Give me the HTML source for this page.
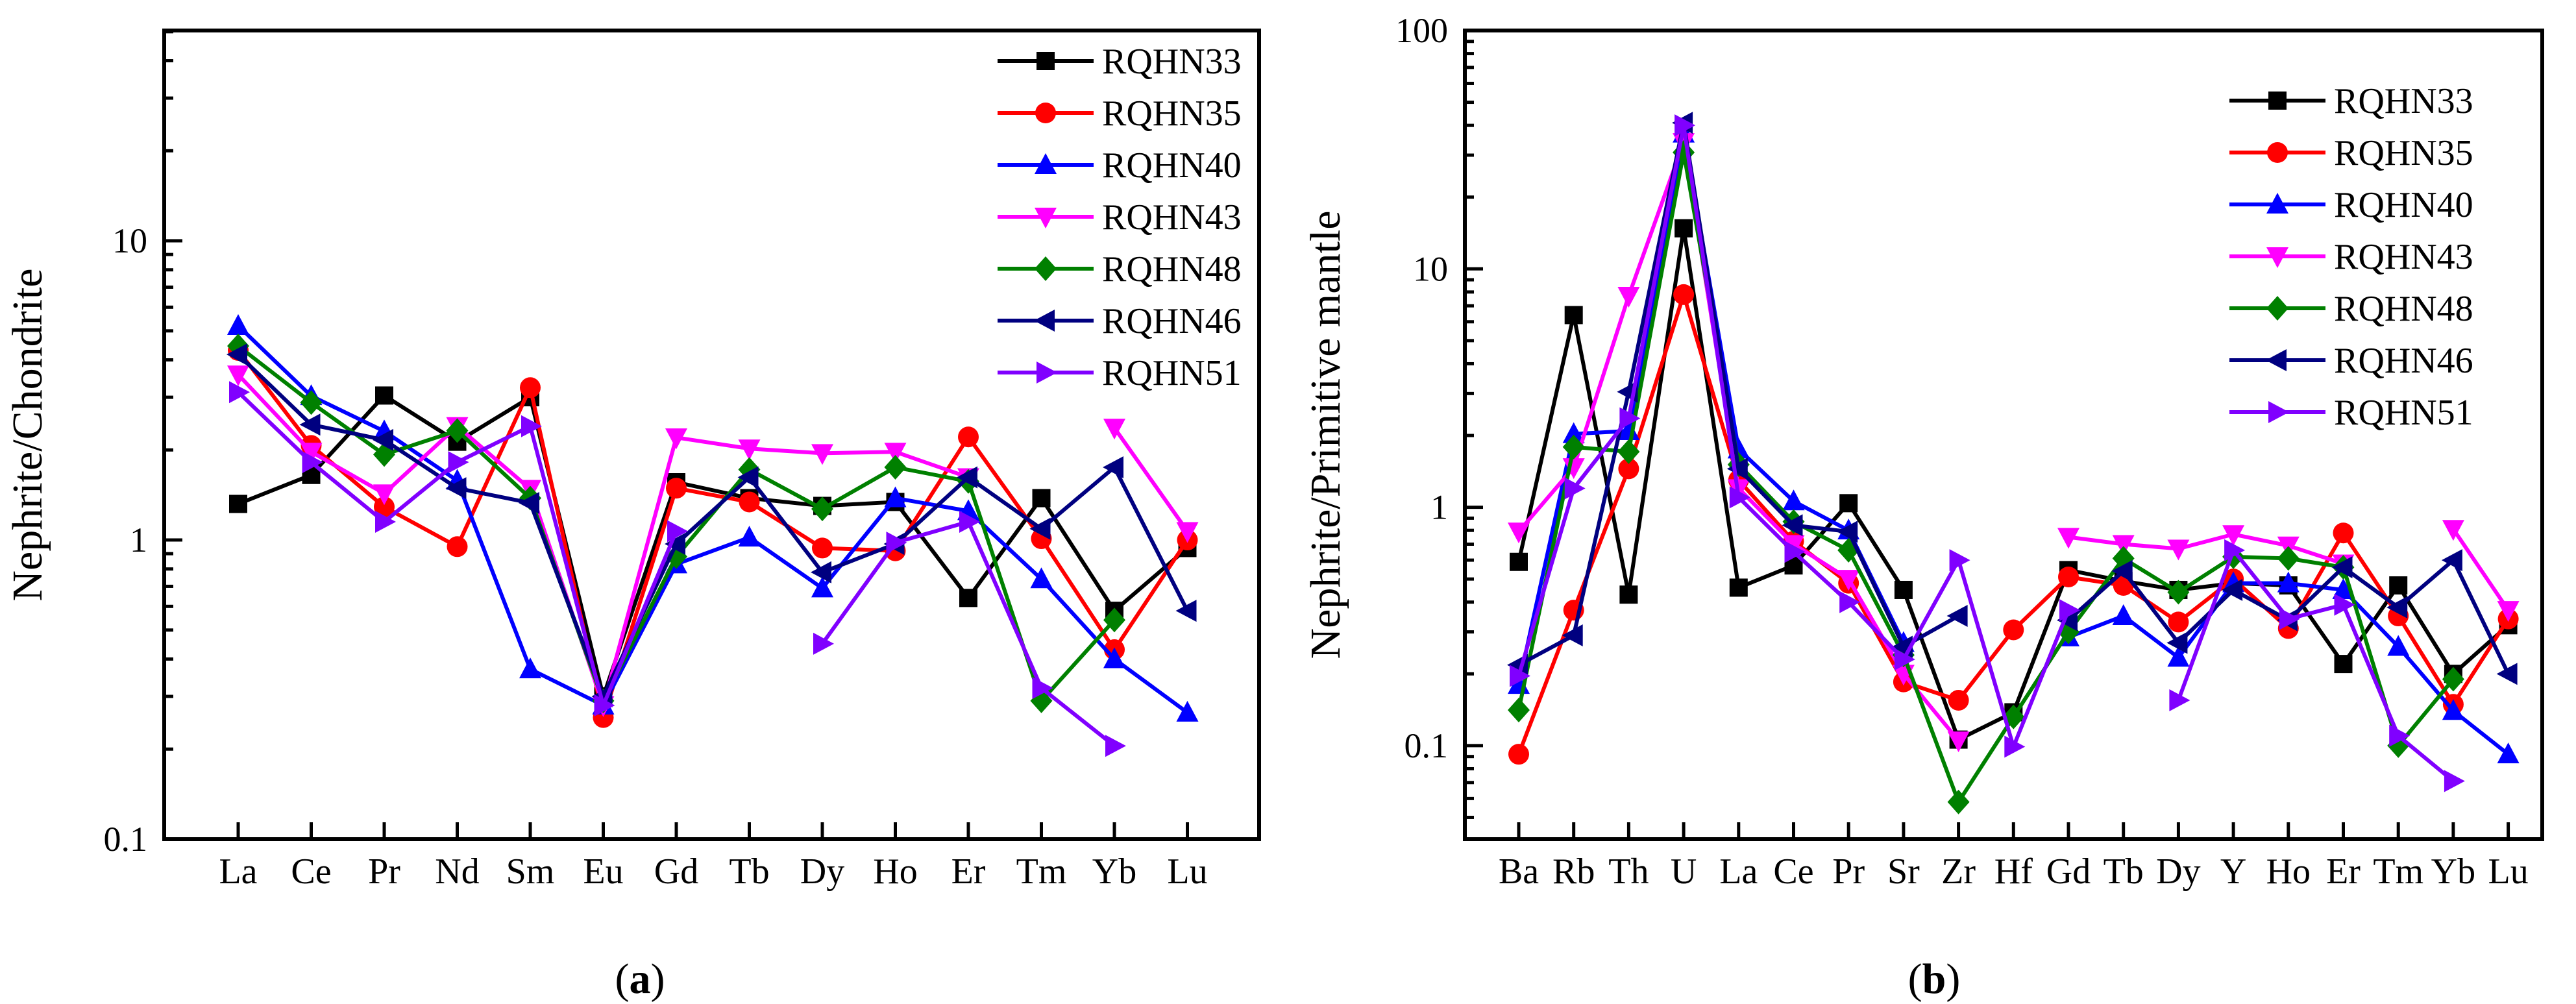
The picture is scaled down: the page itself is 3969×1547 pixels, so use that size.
<!DOCTYPE html>
<html><head><meta charset="utf-8"><style>
html,body{margin:0;padding:0;background:#fff;}
svg{display:block;}
svg text{font-family:"Liberation Serif","DejaVu Serif",serif;}
</style></head><body>
<svg id="chart" width="3969" height="1547" viewBox="0 0 3969 1547" font-family="'Liberation Serif', serif" xmlns="http://www.w3.org/2000/svg"></svg>
<script>
const seriesNames = ["RQHN33","RQHN35","RQHN40","RQHN43","RQHN48","RQHN46","RQHN51"];
const seriesColors = ["#000000","#ff0000","#0000ff","#ff00ff","#008000","#000080","#8000ff"];
const seriesMarkers = ["square","circle","up","down","diamond","left","right"];

const catsA = ["La","Ce","Pr","Nd","Sm","Eu","Gd","Tb","Dy","Ho","Er","Tm","Yb","Lu"];
const a33 = [1.32,1.65,3.04,2.13,3.0,0.30,1.56,1.38,1.30,1.34,0.64,1.38,0.58,0.94];
const a35 = [4.3,2.07,1.29,0.95,3.23,0.255,1.49,1.34,0.94,0.92,2.21,1.01,0.43,1.0];
const a40 = [5.2,3.03,2.31,1.58,0.37,0.28,0.83,1.02,0.69,1.38,1.25,0.74,0.40,0.265];
const a43 = [3.57,1.97,1.43,2.4,1.48,0.28,2.2,2.02,1.95,1.97,1.62,null,2.37,1.07];
const a48 = [4.45,2.88,1.93,2.32,1.38,0.29,0.88,1.72,1.27,1.75,1.57,0.29,0.54,null];
const a46 = [4.17,2.43,2.16,1.49,1.33,0.30,0.97,1.62,0.78,0.97,1.62,1.09,1.75,0.58];
const a51 = [3.12,1.82,1.15,1.82,2.4,0.28,1.07,null,0.45,0.98,1.15,0.32,0.205,null];
const ticksA = [0.1,1,10];
const ticksALabels = ["0.1","1","10"];

const catsB = ["Ba","Rb","Th","U","La","Ce","Pr","Sr","Zr","Hf","Gd","Tb","Dy","Y","Ho","Er","Tm","Yb","Lu"];
const b33 = [0.59,6.4,0.43,14.8,0.46,0.57,1.04,0.45,0.106,0.138,0.545,0.49,0.45,0.48,0.47,0.22,0.47,0.20,0.32];
const b35 = [0.092,0.37,1.45,7.8,1.3,0.72,0.48,0.185,0.155,0.306,0.51,0.47,0.33,0.5,0.31,0.78,0.35,0.149,0.34];
const b40 = [0.18,2.03,2.09,37,1.75,1.06,0.8,0.27,null,null,0.285,0.35,0.234,0.48,0.48,0.45,0.26,0.14,0.092];
const b43 = [0.79,1.47,7.7,34,1.2,0.7,0.5,0.2,0.105,null,0.75,0.70,0.67,0.77,0.69,0.58,null,0.81,0.37];
const b48 = [0.141,1.79,1.71,30.8,1.51,0.87,0.66,0.24,0.058,0.132,0.30,0.61,0.44,0.62,0.61,0.56,0.10,0.19,null];
const b46 = [0.218,0.29,3.05,41,1.45,0.84,0.79,0.26,0.35,null,0.336,0.54,0.27,0.45,0.336,0.56,0.38,0.60,0.20];
const b51 = [0.196,1.2,2.36,40,1.1,0.65,0.4,0.23,0.6,0.099,0.37,null,0.155,0.66,0.34,0.39,0.11,0.071,null];
const ticksB = [0.1,1,10,100];
const ticksBLabels = ["0.1","1","10","100"];

const NS="http://www.w3.org/2000/svg";
const svg=document.getElementById('chart');
function mk(tag,attrs,parent){const e=document.createElementNS(NS,tag);for(const k in attrs)e.setAttribute(k,attrs[k]);(parent||svg).appendChild(e);return e;}
const FF="Liberation Serif, DejaVu Serif, serif";

function marker(g,type,x,y,c){
  const s=14;let e;
  if(type==="square") e=mk('rect',{x:x-s,y:y-s,width:2*s,height:2*s,fill:c},g);
  else if(type==="circle") e=mk('circle',{cx:x,cy:y,r:s+2,fill:c},g);
  else {
    let p;
    if(type==="up") p=[[x,y-s-4],[x+s+3,y+s],[x-s-3,y+s]];
    else if(type==="down") p=[[x,y+s+4],[x+s+3,y-s],[x-s-3,y-s]];
    else if(type==="diamond") p=[[x,y-s-5],[x+s+3,y],[x,y+s+5],[x-s-3,y]];
    else if(type==="left") p=[[x-s-4,y],[x+s,y-s-3],[x+s,y+s+3]];
    else p=[[x+s+4,y],[x-s,y-s-3],[x-s,y+s+3]];
    e=mk('polygon',{points:p.map(q=>q.join(',')).join(' '),fill:c},g);
  }
  
  
}

function panel(cfg){
  const g=mk('g',{});
  
  
  const {L,R,T,B,x0,dx,logMin,logMax}=cfg;
  const xs=i=>x0+i*dx;
  const ys=v=>B-(Math.log10(v)-logMin)/(logMax-logMin)*(B-T);
  cfg.cats.forEach((c,i)=>{
    const t=mk('line',{x1:xs(i),x2:xs(i),y1:B,y2:B-26,stroke:'#000','stroke-width':5},g);
    
    
    const tx=mk('text',{x:xs(i),y:B+68,'font-size':56,'font-family':FF,'text-anchor':'middle'},g);
    tx.textContent=c;
    
    
  });
  for(let d=Math.floor(logMin);d<=Math.ceil(logMax);d++){
    for(let m=1;m<10;m++){
      const v=m*Math.pow(10,d);const lv=Math.log10(v);
      if(lv<logMin-1e-6||lv>logMax+1e-6)continue;
      const y=ys(v);
      const t=mk('line',{x1:L,x2:L+(m===1?28:14),y1:y,y2:y,stroke:'#000','stroke-width':5},g);
      
      
    }
  }
  cfg.ticks.forEach((v,i)=>{
    const tx=mk('text',{x:L-26,y:ys(v)+18,'font-size':54,'font-family':FF,'text-anchor':'end'},g);
    tx.textContent=cfg.tickLabels[i];
    
    
  });
  const fr=mk('rect',{x:L,y:T,width:R-L,height:B-T,fill:'none',stroke:'#000','stroke-width':6},g);
  
  
  const yt=mk('text',{x:0,y:0,'font-size':66,'font-family':FF,'text-anchor':'middle',transform:`translate(${cfg.titleX},${(T+B)/2}) rotate(-90)`},g);
  yt.textContent=cfg.ytitle;
  
  
  cfg.data.forEach((arr,si)=>{
    const sg=mk('g',{},g);
    
    
    let segs=[],cur=[];
    arr.forEach((v,i)=>{if(v==null){if(cur.length)segs.push(cur);cur=[];}else cur.push([xs(i),ys(v)]);});
    if(cur.length)segs.push(cur);
    segs.forEach(s=>{if(s.length>1){const pl=mk('polyline',{points:s.map(p=>p.join(',')).join(' '),fill:'none',stroke:seriesColors[si],'stroke-width':6,'stroke-linejoin':'round'},sg);
      
      }});
    arr.forEach((v,i)=>{if(v!=null)marker(sg,seriesMarkers[si],xs(i),ys(v),seriesColors[si]);});
  });
  const lg=mk('g',{},g);
  
  
  seriesNames.forEach((n,i)=>{
    const y=cfg.legY+i*80;
    const eg=mk('g',{},lg);
    
    
    mk('line',{x1:cfg.legX,x2:cfg.legX+148,y1:y,y2:y,stroke:seriesColors[i],'stroke-width':6},eg);
    marker(eg,seriesMarkers[i],cfg.legX+74,y,seriesColors[i]);
    const t=mk('text',{x:cfg.legX+161,y:y+19,'font-size':56,'font-family':FF},eg);
    t.textContent=n;
    
    
  });
  const cap=mk('text',{x:cfg.capX,y:1530,'font-size':66,'font-family':FF,'text-anchor':'middle'},g);
  cap.innerHTML='(<tspan font-weight="bold">'+cfg.cap+'</tspan>)';
  
  
}

panel({name:'panel-a',L:253,R:1940,T:47,B:1293,x0:367,dx:112.5,logMin:-1,logMax:1.703,
  cats:catsA,ticks:ticksA,tickLabels:ticksALabels,ytitle:'Nephrite/Chondrite',titleX:64,
  data:[a33,a35,a40,a43,a48,a46,a51],legX:1537,legY:94,capX:986,cap:'a'});
panel({name:'panel-b',L:2257,R:3917,T:47,B:1293,x0:2340,dx:84.7,logMin:Math.log10(0.1)-(1293-1149)/367,logMax:2,
  cats:catsB,ticks:ticksB,tickLabels:ticksBLabels,ytitle:'Nephrite/Primitive mantle',titleX:2064,
  data:[b33,b35,b40,b43,b48,b46,b51],legX:3435,legY:155,capX:2980,cap:'b'});
</script>
</body></html>
